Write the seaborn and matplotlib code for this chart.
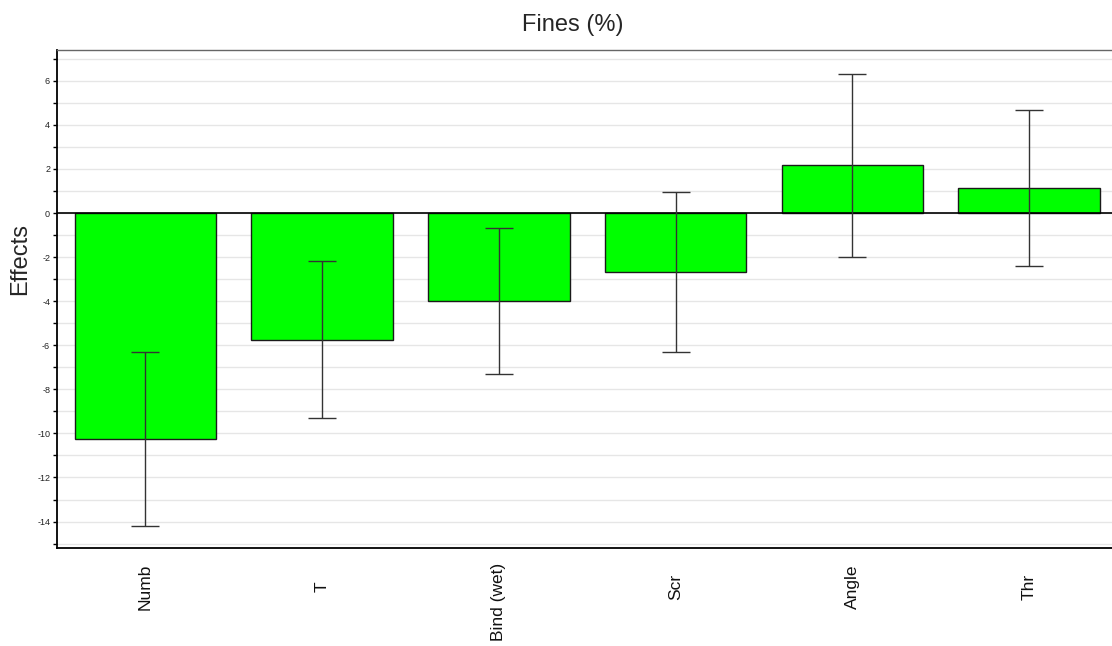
import numpy as np
import pandas as pd
import matplotlib
matplotlib.use("Agg")
import matplotlib.pyplot as plt
import seaborn as sns
from matplotlib.ticker import MultipleLocator

# Effects and confidence half-widths
factors = ["Numb", "T", "Bind (wet)", "Scr", "Angle", "Thr"]
effects = [-10.25, -5.75, -4.0, -2.68, 2.16, 1.14]
conf = [3.95, 3.57, 3.3, 3.64, 4.16, 3.55]

df = pd.DataFrame({"factor": factors, "effect": effects, "conf": conf})

sns.set_theme(style="white")
plt.rcParams["font.family"] = ["Liberation Sans", "DejaVu Sans"]
plt.rcParams["axes.unicode_minus"] = False

fig = plt.figure(figsize=(11.12, 6.46), dpi=100)
ax = fig.add_axes([0.0513, 0.1517, 0.9487, 0.7709])

sns.barplot(data=df, x="factor", y="effect", color="#00ff00", saturation=1,
            edgecolor="#1a1a1a", linewidth=1, width=0.8, errorbar=None, ax=ax)
ax.errorbar(np.arange(len(df)), df["effect"], yerr=df["conf"], fmt="none",
            ecolor="#333333", elinewidth=1, capsize=10, capthick=1, zorder=5)

ax.axhline(0, color="black", linewidth=1.2, zorder=4)

ax.set_xlim(-0.5, 5.47)
ax.set_ylim(-15.2, 7.4)
ax.yaxis.set_major_locator(MultipleLocator(2))
ax.yaxis.set_minor_locator(MultipleLocator(1))
ax.grid(True, which="both", axis="y", color="#e6e6e6", linewidth=1)
ax.set_axisbelow(True)

ax.tick_params(axis="y", which="both", left=True, length=3, width=1,
               color="black", labelsize=6.5, pad=2, labelcolor="#222222")

# category labels: short ones centred in the label band, long one hangs from the top
ax.set_xticks(range(len(factors)))
ax.set_xticklabels([])
ax.tick_params(axis="x", length=0)
for i, name in enumerate(factors):
    long_name = len(name) > 6
    ax.annotate(name, xy=(i, 0), xycoords=ax.get_xaxis_transform(),
                xytext=(0, -10.8 if long_name else -28), textcoords="offset points",
                rotation=90, ha="center", va="top" if long_name else "center",
                fontsize=12.5, color="#111111")

for side in ["left", "bottom"]:
    ax.spines[side].set_color("black")
    ax.spines[side].set_linewidth(1.3)
ax.spines["top"].set_color("#666666")
ax.spines["top"].set_linewidth(1)
ax.spines["right"].set_visible(False)

ax.set_xlabel("")
ax.set_ylabel("Effects", fontsize=17)
ax.yaxis.set_label_coords(-0.0245, 0.58)
ax.set_title("Fines (%)", fontsize=17, pad=14, x=0.489)

fig.savefig("out.png", dpi=100)
